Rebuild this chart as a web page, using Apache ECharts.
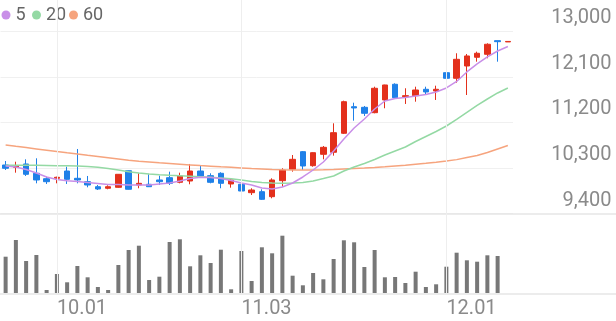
<!DOCTYPE html>
<html>
<head>
<meta charset="utf-8">
<script src="https://cdn.jsdelivr.net/npm/echarts@6/dist/echarts.min.js"></script>
<style>
html,body{margin:0;padding:0;background:#fff;}
#chart{width:616px;height:321px;}
</style>
</head>
<body>
<div id="chart"></div>
<script>
const categories = ['09.24','09.25','09.26','09.29','09.30','10.01','10.02','10.10','10.13','10.14',
  '10.15','10.16','10.17','10.20','10.21','10.22','10.23','10.24','10.27','10.28',
  '10.29','10.30','10.31','11.03','11.04','11.05','11.06','11.07','11.10','11.11',
  '11.12','11.13','11.14','11.17','11.18','11.19','11.20','11.21','11.24','11.25',
  '11.26','11.27','11.28','12.01','12.02','12.03','12.04','12.05','12.08','12.09'];

const openValues = [10360,10314,10380,10196,10089,10097,10241,10097,10030,9931,
  9900,9919,10247,9965,9979,10064,10109,10018,10044,10241,
  10149,10196,9985,9979,9813,9833,9734,10050,10275,10623,
  10346,10571,10611,10986,11511,11499,11393,11644,11954,11709,
  11729,11855,11821,12183,12072,12315,12487,12546,12815,12790];
const closeValues = [10295,10340,10176,10064,10030,10117,10077,10064,9965,9886,
  9931,10176,9880,9998,9931,10030,9998,10143,10241,10143,
  10018,9998,10064,9846,9866,9682,10064,10261,10472,10340,
  10603,10709,10998,11610,11486,11381,11875,11940,11689,11729,
  11841,11802,11855,12072,12447,12513,12566,12744,12795,12800];
const lowValues = [10261,10208,10143,9998,9985,9998,9985,9998,9919,9866,
  9880,9910,9875,9900,9925,9965,9965,9998,9979,10129,
  9998,9900,9912,9801,9767,9669,9702,9931,10228,10261,
  10326,10472,10544,10972,11235,11328,11381,11480,11677,11565,
  11610,11762,11644,11855,11985,11742,12400,12467,12400,12790];
const highValues = [10439,10425,10472,10492,10129,10129,10326,10676,10143,9965,
  9959,10180,10250,10196,10176,10149,10228,10208,10380,10346,
  10196,10216,10077,10030,9900,9880,10097,10295,10557,10636,
  10610,10735,11183,11630,11590,11525,11906,11945,11973,11875,
  11906,11906,11926,12222,12566,12552,12598,12763,12815,12800];

const volumes = [36300,53000,32000,38000,3000,19000,10700,27000,15700,6000,
  3000,28000,43000,47300,13000,16300,51000,53700,26700,37700,
  30000,43300,3700,42000,12000,45700,39700,57300,17300,7700,
  20000,13700,34000,52700,50700,26000,43000,15700,16000,10000,
  21300,6000,8700,26300,40300,32700,31300,37700,37000,0];

const ma5 = [10340,10320,10271,10202,10123,10073,10050,10034,10014,9995,
  9975,9975,9965,9965,9965,9985,10004,10044,10093,10117,
  10113,10093,10054,10004,9965,9906,9886,9925,10004,10123,
  10261,10419,10636,10873,11091,11268,11466,11624,11673,11693,
  11723,11752,11802,11881,12009,12197,12355,12493,12611,12700];
const ma20 = [10354,10354,10354,10354,10350,10346,10344,10340,10330,10314,
  10291,10261,10228,10202,10182,10166,10156,10147,10137,10127,
  10117,10103,10087,10064,10034,10014,10004,10000,10004,10014,
  10044,10093,10143,10241,10320,10390,10469,10557,10636,10715,
  10824,10923,11022,11130,11259,11397,11535,11663,11782,11881];
const ma60 = [10755,10729,10704,10678,10652,10626,10601,10577,10551,10528,
  10504,10480,10453,10435,10419,10403,10390,10376,10362,10348,
  10336,10324,10313,10301,10289,10281,10273,10267,10263,10261,
  10263,10267,10273,10281,10289,10299,10310,10324,10340,10356,
  10374,10393,10415,10439,10466,10508,10547,10607,10676,10745];

const yTickLabels = ['9,400','10,300','11,200','12,100','13,000'];
const xTickLabels = ['10.01','11.03','12.01'];
const legendNames = ['5','20','60'];

const RED = '#e3301c', BLUE = '#1f80e8';
const C5 = '#c98fe8', C20 = '#94d9a4', C60 = '#f6a47e';
const candleData = categories.map((_, i) => [openValues[i], closeValues[i], lowValues[i], highValues[i]]);

const chart = echarts.init(document.getElementById('chart'), null, {renderer: 'canvas'});
const gridL = 0.5, gridW = 512.5;
const labelFont = {fontFamily: 'Roboto', fontSize: 20, color: '#8a8a8a'};
const legendCommon = {icon: 'circle', itemWidth: 9, itemHeight: 9, padding: 0, top: 6, selectedMode: false,
  textStyle: {fontFamily: 'Roboto', fontSize: 18, color: '#666'}};
const fullLine = {lineStyle: {color: '#e6e6e6', width: 1.5}};

chart.setOption({
  animation: false,
  backgroundColor: '#fff',
  legend: [
    Object.assign({data: [legendNames[0]], left: 1.5}, legendCommon),
    Object.assign({data: [legendNames[1]], left: 32}, legendCommon),
    Object.assign({data: [legendNames[2]], left: 69}, legendCommon)
  ],
  grid: [
    {left: gridL, width: gridW, top: 31.3, height: 182.3},
    {left: gridL, width: gridW, top: 232.7, height: 60.3},
    {left: gridL, width: gridW, top: 0, height: 294},
    {left: 0, right: 0, top: 212.6, height: 1},
    {left: 0, right: 0, top: 293.2, height: 1}
  ],
  xAxis: [
    {gridIndex: 0, type: 'category', data: categories, boundaryGap: true, show: false},
    {gridIndex: 1, type: 'category', data: categories, boundaryGap: true,
      axisLine: {show: false}, axisTick: {show: false}, splitLine: {show: false},
      axisLabel: Object.assign({interval: (i, v) => xTickLabels.includes(v), align: 'left', margin: 6}, labelFont)},
    {gridIndex: 2, type: 'category', data: categories, boundaryGap: true, show: false},
    {gridIndex: 3, type: 'value', min: 0, max: 1, axisLine: Object.assign({show: true, onZero: false}, fullLine),
      axisLabel: {show: false}, axisTick: {show: false}, splitLine: {show: false}},
    {gridIndex: 4, type: 'value', min: 0, max: 1, axisLine: Object.assign({show: true, onZero: false}, fullLine),
      axisLabel: {show: false}, axisTick: {show: false}, splitLine: {show: false}}
  ],
  yAxis: [
    {gridIndex: 0, type: 'value', min: 9400, max: 13000, show: false},
    {gridIndex: 0, type: 'value', min: 0, max: 4, interval: 1, position: 'right',
      axisLine: {show: false}, axisTick: {show: false},
      splitLine: {show: true, lineStyle: {color: '#f0f0f0', width: 1}},
      axisLabel: Object.assign({formatter: v => yTickLabels[Math.round(v)], align: 'right',
        verticalAlign: 'bottom', margin: 98.5, padding: [0, 0, 3, 0]}, labelFont)},
    {gridIndex: 1, type: 'value', min: 0, max: 60300, show: false},
    {gridIndex: 2, type: 'value', min: 0, max: 1, show: false},
    {gridIndex: 3, type: 'value', min: 0, max: 1, show: false},
    {gridIndex: 4, type: 'value', min: 0, max: 1, show: false}
  ],
  series: [
    {type: 'line', xAxisIndex: 2, yAxisIndex: 3, data: [], z: 0, silent: true,
      markLine: {silent: true, symbol: 'none', label: {show: false},
        lineStyle: {color: '#eeeeee', width: 1, type: 'solid'},
        data: xTickLabels.map(d => ({xAxis: d}))}},
    {name: legendNames[2], type: 'line', xAxisIndex: 0, yAxisIndex: 0, data: ma60, showSymbol: false,
      lineStyle: {color: C60, width: 1.5}, itemStyle: {color: C60}},
    {name: legendNames[1], type: 'line', xAxisIndex: 0, yAxisIndex: 0, data: ma20, showSymbol: false,
      lineStyle: {color: C20, width: 1.5}, itemStyle: {color: C20}},
    {name: legendNames[0], type: 'line', xAxisIndex: 0, yAxisIndex: 0, data: ma5, showSymbol: false,
      lineStyle: {color: C5, width: 1.5}, itemStyle: {color: C5}},
    {type: 'candlestick', xAxisIndex: 0, yAxisIndex: 0, data: candleData, barWidth: 6,
      itemStyle: {color: RED, color0: BLUE, borderColor: RED, borderColor0: BLUE, borderWidth: 1}},
    {type: 'bar', xAxisIndex: 1, yAxisIndex: 2, data: volumes, barWidth: 4, itemStyle: {color: '#777777'}}
  ]
});
</script>
</body>
</html>
